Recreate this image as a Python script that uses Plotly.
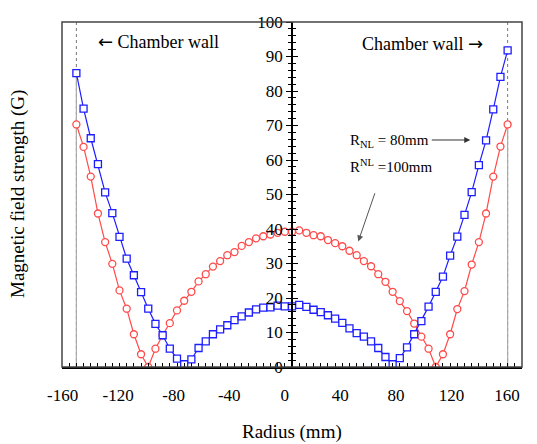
import plotly.graph_objects as go

# ---- data ----
radius = list(range(-150, 151, 5))

field_80mm = [85.2, 74.9, 66.3, 58.8, 50.6, 44.6, 37.7, 31.4, 26.6, 21.7,
              16.9, 12.5, 9.2, 5.3, 2.4, 0.8, 2.2, 5.5, 7.4, 9.5,
              10.9, 12.1, 13.6, 14.7, 15.8, 16.7, 17.2, 17.3, 17.8, 17.6,
              17.6,
              18.0, 17.4, 16.6, 15.9, 15.0, 14.0, 12.8, 11.2, 9.8, 8.8,
              7.4, 5.5, 2.9, 0.8, 2.6, 5.7, 9.5, 13.3, 17.5, 21.8,
              26.2, 32.3, 37.8, 44.1, 50.7, 58.5, 65.7, 74.7, 84.1, 91.8]

field_100mm = [70.3, 63.8, 55.2, 44.5, 36.2, 29.9, 22.2, 16.9, 9.5, 3.7,
               0.0, 5.3, 9.2, 12.7, 16.4, 19.2, 21.8, 24.8, 26.9, 29.1,
               30.7, 32.4, 33.3, 35.1, 36.2, 37.3, 37.9, 38.4, 38.9, 39.2,
               39.2,
               39.6, 38.9, 38.2, 37.9, 36.8, 35.9, 35.0, 33.7, 32.4, 30.7,
               29.2, 26.9, 24.7, 21.8, 19.1, 16.2, 12.6, 8.8, 5.3, 0.0,
               3.7, 9.5, 16.8, 22.0, 29.7, 36.2, 44.5, 55.2, 63.9, 70.3]

x_tick_vals = [-160, -120, -80, -40, 0, 40, 80, 120, 160]
x_tick_text = ["-160", "-120", "-80", "-40", "0", "40", "80", "120", "160"]
y_tick_vals = [0, 10, 20, 30, 40, 50, 60, 70, 80, 90, 100]
wall_positions = [-150, 150]

BLUE = "#1E1EFF"
RED = "#FF4A4A"
FONT = "Liberation Serif"
ARROW_SPAN = "<span style='font-family:DejaVu Sans'>{}</span>"

fig = go.Figure()

fig.add_trace(go.Scatter(
    x=radius, y=field_100mm, mode="lines+markers", name="R=100mm",
    line=dict(color=RED, width=1.2),
    marker=dict(symbol="circle", size=7, color="white",
                line=dict(color=RED, width=1.3)),
    showlegend=False))
fig.add_trace(go.Scatter(
    x=radius, y=field_80mm, mode="lines+markers", name="R=80mm",
    line=dict(color=BLUE, width=1.2),
    marker=dict(symbol="square", size=7, color="white",
                line=dict(color=BLUE, width=1.3)),
    showlegend=False))

# helper empty traces so the overlay axes get drawn
fig.add_trace(go.Scatter(x=[], y=[], xaxis="x2", yaxis="y", showlegend=False, hoverinfo="skip"))
fig.add_trace(go.Scatter(x=[], y=[], xaxis="x", yaxis="y2", showlegend=False, hoverinfo="skip"))

# chamber wall lines
shapes = []
for xw in wall_positions:
    shapes.append(dict(type="line", xref="x", yref="y", x0=xw, x1=xw, y0=0, y1=100,
                       line=dict(color="#777777", width=1, dash="dot"), layer="below"))
shapes.append(dict(type="line", xref="x", yref="y", x0=wall_positions[0], x1=wall_positions[0],
                   y0=0, y1=field_80mm[0], line=dict(color="#AAAAAA", width=1.2), layer="below"))
shapes.append(dict(type="line", xref="x", yref="y", x0=wall_positions[1], x1=wall_positions[1],
                   y0=0, y1=field_100mm[-1], line=dict(color="#AAAAAA", width=1.2), layer="below"))
# frame
shapes.append(dict(type="rect", xref="paper", yref="paper", x0=0, x1=1, y0=0, y1=1,
                   line=dict(color="#444444", width=1.5)))

annotations = [
    dict(x=-93, y=94.4, xref="x", yref="y",
         text=ARROW_SPAN.format("\u2190") + " Chamber wall", showarrow=False,
         font=dict(family=FONT, size=18, color="black")),
    dict(x=90.6, y=93.7, xref="x", yref="y",
         text="Chamber wall " + ARROW_SPAN.format("\u2192"), showarrow=False,
         font=dict(family=FONT, size=18, color="black")),
    dict(x=39.2, y=65.5, xref="x", yref="y", xanchor="left",
         text="R<sub>NL</sub> = 80mm", showarrow=False,
         font=dict(family=FONT, size=15, color="black")),
    dict(x=39.2, y=58.2, xref="x", yref="y", xanchor="left",
         text="R<sup>NL</sup> =100mm", showarrow=False,
         font=dict(family=FONT, size=15, color="black")),
    dict(x=124, y=65.8, ax=96.2, ay=65.8, xref="x", yref="y", axref="x", ayref="y",
         text="", showarrow=True, arrowhead=2, arrowsize=1.2, arrowwidth=1, arrowcolor="#333333"),
    dict(x=46.1, y=36.4, ax=58, ay=50.8, xref="x", yref="y", axref="x", ayref="y",
         text="", showarrow=True, arrowhead=2, arrowsize=1.2, arrowwidth=1, arrowcolor="#555555"),
    dict(x=0.5, y=-0.225, xref="paper", yref="paper", text="Radius (mm)", showarrow=False,
         font=dict(family=FONT, size=19, color="black")),
    dict(x=-0.125, y=0.5, xref="paper", yref="paper", text="Magnetic field strength (G)",
         textangle=-90, showarrow=False, font=dict(family=FONT, size=19, color="black")),
]

# the page body has an 8px margin, so the figure is shrunk by 8px and margins shifted
fig.update_layout(
    width=529, height=436,
    margin=dict(l=54, r=15, t=5, b=77),
    paper_bgcolor="white", plot_bgcolor="white",
    font=dict(family=FONT, size=17, color="black"),
    shapes=shapes, annotations=annotations,
    xaxis=dict(range=[-160, 160], showgrid=False, zeroline=False,
               showline=True, linecolor="black", linewidth=1.5,
               ticks="inside", tick0=0, dtick=5, ticklen=4, tickwidth=1, tickcolor="black",
               showticklabels=False),
    xaxis2=dict(overlaying="x", anchor="y", side="bottom", range=[-160.4, 170.8],
                showgrid=False, zeroline=False, showline=False, ticks="",
                tickvals=x_tick_vals, ticktext=x_tick_text,
                tickfont=dict(family=FONT, size=17, color="black"),
                ticklabelstandoff=16, ticklabeloverflow="allow"),
    yaxis=dict(range=[0, 100], anchor="free", position=0.5, showgrid=False, zeroline=False,
               showline=True, linecolor="black", linewidth=1.5,
               ticks="outside", tickvals=y_tick_vals, ticklen=5, tickwidth=1.3, tickcolor="black",
               minor=dict(dtick=2, ticks="outside", ticklen=3, tickwidth=1, tickcolor="black"),
               tickfont=dict(family=FONT, size=17, color="black"),
               ticklabeloverflow="allow"),
    yaxis2=dict(range=[0, 100], overlaying="y", anchor="free", position=0.5, side="left",
                showgrid=False, zeroline=False, showline=False, showticklabels=False,
                ticks="inside", tickvals=y_tick_vals, ticklen=5, tickwidth=1.3, tickcolor="black",
                minor=dict(dtick=2, ticks="inside", ticklen=3, tickwidth=1, tickcolor="black")),
)

fig.write_html("out.html")
